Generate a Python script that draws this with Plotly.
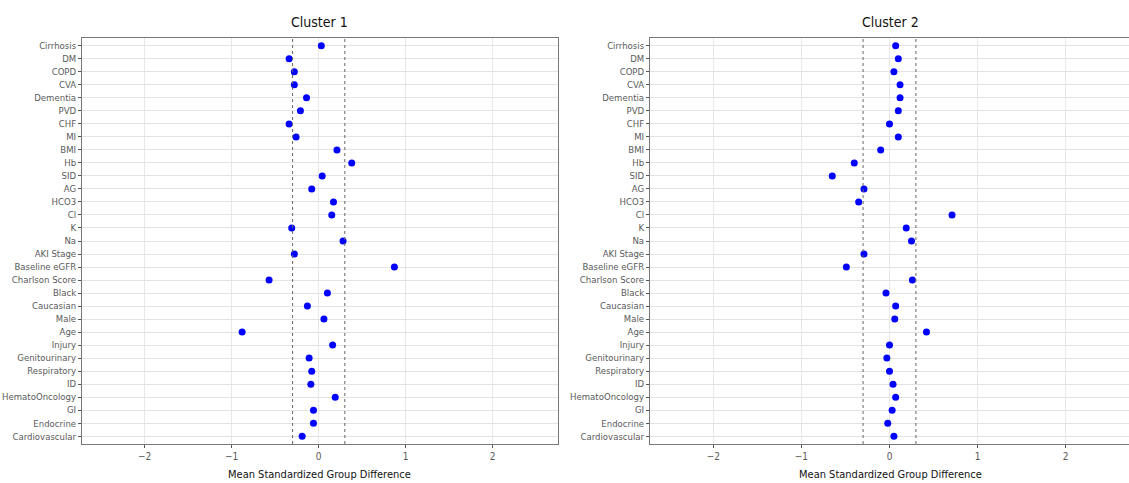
import plotly.graph_objects as go

categories = ["Cirrhosis", "DM", "COPD", "CVA", "Dementia", "PVD", "CHF", "MI", "BMI", "Hb",
              "SID", "AG", "HCO3", "Cl", "K", "Na", "AKI Stage", "Baseline eGFR", "Charlson Score",
              "Black", "Caucasian", "Male", "Age", "Injury", "Genitourinary", "Respiratory", "ID",
              "HematoOncology", "GI", "Endocrine", "Cardiovascular"]

cluster1 = [0.03, -0.34, -0.28, -0.28, -0.14, -0.21, -0.34, -0.26, 0.21, 0.38,
            0.04, -0.08, 0.17, 0.15, -0.31, 0.28, -0.28, 0.87, -0.57,
            0.10, -0.13, 0.06, -0.88, 0.16, -0.11, -0.08, -0.09,
            0.19, -0.06, -0.06, -0.19]

cluster2 = [0.07, 0.10, 0.05, 0.12, 0.12, 0.10, 0.00, 0.10, -0.10, -0.40,
            -0.65, -0.29, -0.35, 0.71, 0.19, 0.25, -0.29, -0.49, 0.26,
            -0.04, 0.07, 0.06, 0.42, 0.00, -0.03, 0.00, 0.04,
            0.07, 0.03, -0.02, 0.05]

x_ticks = [-2, -1, 0, 1, 2]
thresholds = [-0.3, 0.3]
titles = ["Cluster 1", "Cluster 2"]
x_title = "Mean Standardized Group Difference"

W, H = 1129, 483
FONT = "Liberation Sans Narrow, DejaVu Sans Condensed, Liberation Sans, Arial, sans-serif"

fig = go.Figure()
fig.add_trace(go.Scatter(x=cluster1, y=categories, mode="markers",
                         marker=dict(color="#0000FF", size=7), xaxis="x", yaxis="y",
                         showlegend=False))
fig.add_trace(go.Scatter(x=cluster2, y=categories, mode="markers",
                         marker=dict(color="#0000FF", size=7), xaxis="x2", yaxis="y2",
                         showlegend=False))

ydom = [1 - 444 / H, 1 - 38 / H]
dom1 = [82 / W, 558 / W]
dom2 = [650 / W, 1.0]

xcommon = dict(ticks="outside", ticklen=3, automargin=False,
               tickcolor="#555555", tickfont=dict(family=FONT, size=10, color="#5a5a5a"),
               showgrid=True, gridcolor="#e8e8e8", gridwidth=1, zeroline=False,
               showline=True, linecolor="#777777", linewidth=1, mirror=True)
ycommon = dict(type="category", categoryorder="array", categoryarray=categories,
               range=[30.6, -0.6], ticks="outside", ticklen=3, tickcolor="#555555",
               automargin=False,
               tickfont=dict(family=FONT, size=9.5, color="#5a5a5a"),
               showgrid=True, gridcolor="#e3e3e3", gridwidth=1, zeroline=False,
               showline=True, linecolor="#777777", linewidth=1)

fig.update_layout(
    width=W, height=H, margin=dict(l=0, r=0, t=0, b=0, pad=0),
    paper_bgcolor="white", plot_bgcolor="white",
    xaxis=dict(domain=dom1, anchor="y", range=[-2.72, 2.75], tickvals=x_ticks, **xcommon),
    yaxis=dict(domain=ydom, anchor="x", mirror=True, **ycommon),
    xaxis2=dict(domain=dom2, anchor="y2", range=[-2.72, 2.72], tickvals=x_ticks, **xcommon),
    yaxis2=dict(domain=ydom, anchor="x2", mirror=False, **ycommon),
)

shapes = []
for xr in ["x", "x2"]:
    for t in thresholds:
        shapes.append(dict(type="line", xref=xr, yref=("y" if xr == "x" else "y2") + " domain",
                           x0=t, x1=t, y0=0, y1=1,
                           line=dict(color="#666666", width=1, dash="dot")))
fig.update_layout(shapes=shapes)

ann = []
for i, t in enumerate(titles):
    cx = 319 / W if i == 0 else 890 / W
    ann.append(dict(text=t, x=cx, y=1 - 22 / H, xref="paper", yref="paper",
                    showarrow=False, xanchor="center", yanchor="middle",
                    font=dict(family=FONT, size=14, color="#111111")))
    ann.append(dict(text=x_title, x=cx, y=1 - 474 / H, xref="paper", yref="paper",
                    showarrow=False, xanchor="center", yanchor="middle",
                    font=dict(family=FONT, size=11, color="#111111")))
fig.update_layout(annotations=ann)

fig.write_html("out.html", config={"displayModeBar": False},
               post_script="document.body.style.margin='0';document.body.style.overflow='hidden';")
